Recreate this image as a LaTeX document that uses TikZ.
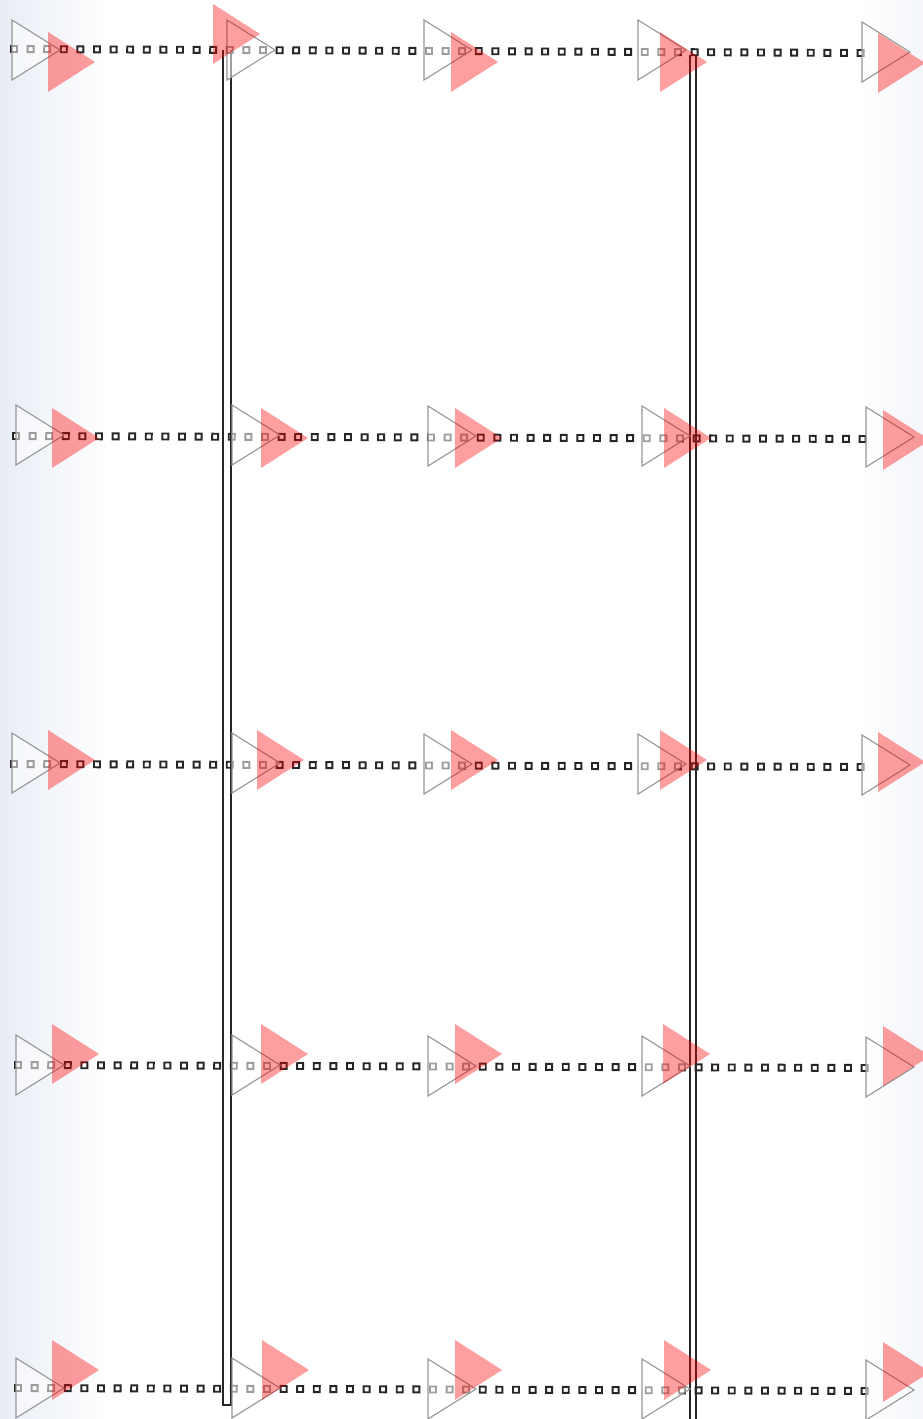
\documentclass[tikz,border=0pt]{standalone}
\usetikzlibrary{decorations.markings}
\definecolor{edgeblue}{RGB}{232,237,245}
\definecolor{trigray}{RGB}{150,150,150}
\tikzset{
  sqline/.style={decoration={markings,
      mark=between positions 0 and 1 step 16.6pt with {\draw[line width=1.9pt,black!85,fill=white] (-3pt,-3pt) rectangle (3pt,3pt);}},
      postaction={decorate}},
  otri/.style={draw=trigray,line width=1.1pt,fill=white,fill opacity=0.55,line join=miter},
  rtri/.style={fill=red,fill opacity=0.38,draw=none},
  rail/.style={draw=black!85,line width=2pt}
}
\newcommand\Otri[2]{\path[otri] (#1,#2-30) -- (#1+48,#2) -- (#1,#2+30) -- cycle;}
\newcommand\Rtri[2]{\path[rtri] (#1,#2-30) -- (#1+47,#2) -- (#1,#2+30) -- cycle;}
\begin{document}
\begin{tikzpicture}[x=1pt,y=-1pt]
\useasboundingbox (0,0) rectangle (923,1419);
% background edges
\shade[left color=edgeblue,right color=white] (0,0) rectangle (110,1419);
\shade[left color=white,right color=edgeblue!50] (860,0) rectangle (923,1419);
% row end coordinates
\coordinate (r1a) at (14,49);   \coordinate (r1b) at (862,53);
\coordinate (r2a) at (16,436);  \coordinate (r2b) at (866,439);
\coordinate (r3a) at (14,764);  \coordinate (r3b) at (862,767);
\coordinate (r4a) at (18,1065); \coordinate (r4b) at (866,1068);
\coordinate (r5a) at (18,1388); \coordinate (r5b) at (866,1391);
% dotted lines
\foreach \r in {1,...,5}{\path[sqline] (r\r a) -- (r\r b);}
% vertical rails
\coordinate (la) at (222.5,50); \coordinate (lb) at (222.5,1405);
\coordinate (lc) at (230.5,1405); \coordinate (ld) at (230.5,50);
\draw[rail] (la) -- (lb) -- (lc) -- (ld);
\coordinate (ra) at (689.5,55); \coordinate (rb) at (689.5,1419);
\coordinate (rc) at (695.5,55); \coordinate (rd) at (695.5,1419);
\draw[rail] (ra) -- (rb);
\draw[rail] (rc) -- (rd);
% outline triangles
\Otri{12}{50}\Otri{227}{50}\Otri{424}{50}\Otri{638}{50}\Otri{862}{52}
\Otri{16}{435}\Otri{232}{435}\Otri{428}{436}\Otri{642}{436}\Otri{866}{437}
\Otri{12}{763}\Otri{232}{763}\Otri{424}{764}\Otri{638}{764}\Otri{862}{765}
\Otri{16}{1065}\Otri{232}{1065}\Otri{428}{1066}\Otri{642}{1066}\Otri{866}{1067}
\Otri{16}{1388}\Otri{232}{1388}\Otri{428}{1389}\Otri{642}{1389}\Otri{866}{1390}
% red triangles
\Rtri{48}{62}\Rtri{213}{34}\Rtri{451}{62}\Rtri{660}{62}\Rtri{878}{63}
\Rtri{52}{438}\Rtri{261}{438}\Rtri{455}{438}\Rtri{664}{438}\Rtri{883}{440}
\Rtri{48}{760}\Rtri{257}{760}\Rtri{451}{760}\Rtri{660}{760}\Rtri{878}{762}
\Rtri{52}{1054}\Rtri{261}{1054}\Rtri{455}{1054}\Rtri{663}{1054}\Rtri{883}{1056}
\Rtri{52}{1370}\Rtri{262}{1370}\Rtri{455}{1370}\Rtri{664}{1370}\Rtri{883}{1372}
\end{tikzpicture}
\end{document}
